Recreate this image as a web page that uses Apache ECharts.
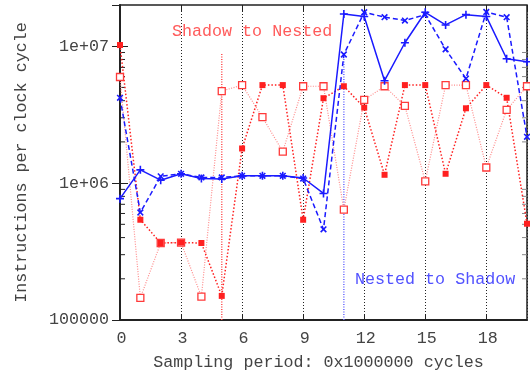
<!DOCTYPE html>
<html>
<head>
<meta charset="utf-8">
<script src="https://cdn.jsdelivr.net/npm/echarts@6/dist/echarts.min.js"></script>
<style>
  html, body { margin: 0; padding: 0; background: #fff; }
  #chart { width: 530px; height: 378px; }
</style>
</head>
<body>
<div id="chart"></div>
<script>
const FONT = 'Liberation Mono';
const periods = [0, 1, 2, 3, 4, 5, 6, 7, 8, 9, 10, 11, 12, 13, 14, 15, 16, 17, 18, 19, 20];

// Nested to Shadow (blue)
const blueSolid = [7.7e5, 1.25e6, 1.05e6, 1.17e6, 1.08e6, 1.07e6, 1.13e6, 1.13e6, 1.13e6, 1.09e6, 8.4e5,
  1.72e7, 1.65e7, 5.6e6, 1.06e7, 1.77e7, 1.43e7, 1.7e7, 1.65e7, 8.1e6, 7.7e6];
const blueDashed = [4.2e6, 6.1e5, 1.12e6, 1.17e6, 1.1e6, 1.1e6, 1.13e6, 1.13e6, 1.13e6, 1.08e6, 4.6e5,
  8.7e6, 1.77e7, 1.63e7, 1.54e7, 1.7e7, 9.5e6, 5.8e6, 1.78e7, 1.63e7, 2.18e6];

// Shadow to Nested (red)
const redFilled = [1.02e7, 5.4e5, 3.65e5, 3.68e5, 3.65e5, 1.5e5, 1.79e6, 5.2e6, 5.2e6, 5.4e5, 4.17e6,
  5.1e6, 3.56e6, 1.15e6, 5.2e6, 5.2e6, 1.17e6, 3.52e6, 5.2e6, 4.2e6, 5.05e5];
const redOpen = [5.96e6, 1.45e5, 3.65e5, 3.68e5, 1.48e5, 4.7e6, 5.2e6, 3.03e6, 1.7e6, 5.1e6, 5.1e6,
  6.4e5, 4.05e6, 5.1e6, 3.66e6, 1.03e6, 5.2e6, 5.2e6, 1.3e6, 3.43e6, 5.1e6];

// single vertical marks
const redVertical = [[5, 1e5], [5, 8.9e6]];
const blueVertical = [[11, 1e5], [11, 8.7e6]];

const xTicks = [0, 3, 6, 9, 12, 15, 18];
const yMinor = [2e5, 3e5, 4e5, 5e5, 6e5, 7e5, 8e5, 9e5, 2e6, 3e6, 4e6, 5e6, 6e6, 7e6, 8e6, 9e6];

const PLUS = 'path://M4,0H6V4H10V6H6V10H4V6H0V4H4Z';

function pairs(vals) {
  return vals.map((v, i) => [periods[i], v]);
}

function yLabel(v) {
  if (v === 1e5) return '100000';
  if (v === 1e6) return '1e+06';
  if (v === 1e7) return '1e+07';
  return '';
}

const chart = echarts.init(document.getElementById('chart'));

chart.setOption({
  animation: false,
  grid: { left: 120, top: 5, right: 3, bottom: 58, show: true, borderColor: '#222', borderWidth: 1.5, backgroundColor: 'transparent' },
  xAxis: [{
    type: 'value', min: 0, max: 20, interval: 3,
    name: 'Sampling period: 0x1000000 cycles', nameLocation: 'middle', nameGap: 34,
    nameTextStyle: { fontFamily: FONT, fontSize: 16.7, color: '#444', padding: [0, 10, 0, 0] },
    axisLine: { lineStyle: { color: '#222', width: 2 } },
    axisTick: { inside: true, length: 6, lineStyle: { color: '#222' } },
    axisLabel: { margin: 10, fontFamily: FONT, fontSize: 16.7, color: '#444', padding: [0, 0, 0, 3],
      formatter: v => (xTicks.indexOf(v) >= 0 ? String(v) : ''), showMaxLabel: false },
    splitLine: { show: true, lineStyle: { color: '#222', type: [1, 2], width: 1 } }
  }, {
    type: 'value', min: 0, max: 20, interval: 3, position: 'top',
    axisLine: { show: false },
    axisTick: { inside: true, length: 6, lineStyle: { color: '#222' } },
    axisLabel: { show: false }, splitLine: { show: false }
  }],
  yAxis: [{
    type: 'log', logBase: 10, min: 1e5, max: 2e7,
    name: 'Instructions per clock cycle', nameLocation: 'middle', nameGap: 90, nameRotate: 90,
    nameTextStyle: { fontFamily: FONT, fontSize: 16.7, color: '#444' },
    axisLine: { show: true, lineStyle: { color: '#222', width: 2 } },
    axisTick: { inside: true, length: 8, lineStyle: { color: '#222' } },
    axisLabel: { margin: 11, fontFamily: FONT, fontSize: 16.7, color: '#444', formatter: yLabel, showMaxLabel: false },
    splitLine: { show: false }
  }, {
    type: 'log', logBase: 10, min: 1e5, max: 2e7, position: 'right',
    axisLine: { show: false },
    axisTick: { inside: true, length: 8, lineStyle: { color: '#222' } },
    axisLabel: { show: false }, splitLine: { show: false }
  }],
  graphic: [
    { type: 'text', left: 172, top: 23, style: { text: 'Shadow to Nested', fontFamily: FONT, fontSize: 16.7, fill: '#ff5a5a' } },
    { type: 'text', left: 355, top: 271, style: { text: 'Nested to Shadow', fontFamily: FONT, fontSize: 16.7, fill: '#5252ff' } }
  ],
  series: [
    {
      type: 'custom', silent: true, z: 1,
      data: yMinor.map(v => [v]),
      renderItem: function (params, api) {
        const v = api.value(0);
        const l = api.coord([0, v]);
        const r = api.coord([20, v]);
        return {
          type: 'group',
          children: [
            { type: 'line', shape: { x1: l[0], y1: l[1], x2: l[0] + 5, y2: l[1] }, style: { stroke: '#222', lineWidth: 1 } },
            { type: 'line', shape: { x1: r[0], y1: r[1], x2: r[0] - 5, y2: r[1] }, style: { stroke: '#888', lineWidth: 1 } }
          ]
        };
      }
    },
    {
      name: 'red vertical', type: 'line', data: redVertical, showSymbol: false,
      lineStyle: { color: '#ff5050', width: 1.5, type: [1, 1.5] }
    },
    {
      name: 'blue vertical', type: 'line', data: blueVertical, showSymbol: false,
      lineStyle: { color: '#6a6aff', width: 1.5, type: [1, 1.5] }
    },
    {
      name: 'Shadow to Nested (open)', type: 'line', data: pairs(redOpen),
      symbol: 'rect', symbolSize: 7,
      itemStyle: { color: '#fff', borderColor: '#ff3a3a', borderWidth: 1.3 },
      lineStyle: { color: '#ff8a8a', width: 1.2, type: [1, 1.5] }
    },
    {
      name: 'Shadow to Nested', type: 'line', data: pairs(redFilled),
      symbol: 'rect', symbolSize: 6,
      itemStyle: { color: '#ff2020' },
      lineStyle: { color: '#ff2020', width: 1.5, type: [1.5, 2] }
    },
    {
      name: 'Nested to Shadow (dashed)', type: 'line', data: pairs(blueDashed),
      symbol: PLUS, symbolSize: 8, symbolRotate: 45,
      itemStyle: { color: '#1a1aff' },
      lineStyle: { color: '#1a1aff', width: 1.5, type: [5, 3] }
    },
    {
      name: 'Nested to Shadow', type: 'line', data: pairs(blueSolid),
      symbol: PLUS, symbolSize: 8,
      itemStyle: { color: '#1a1aff' },
      lineStyle: { color: '#1a1aff', width: 1.5 }
    }
  ]
});
</script>
</body>
</html>
